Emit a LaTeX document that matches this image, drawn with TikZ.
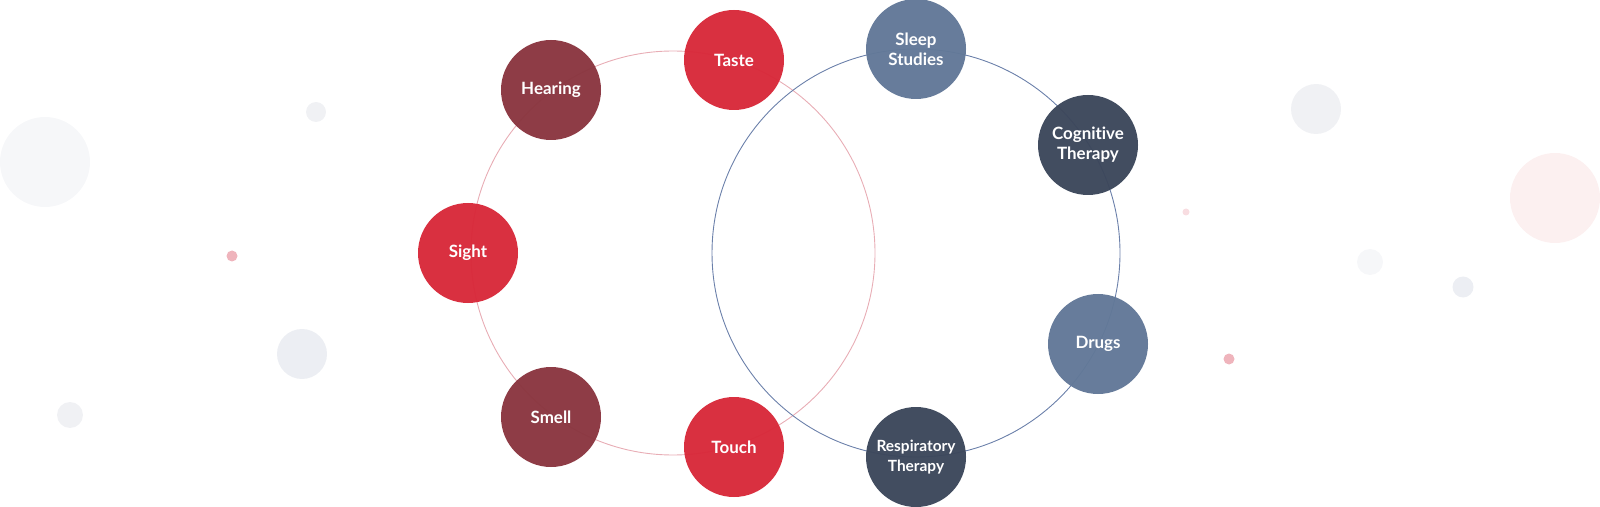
\documentclass[tikz,border=0pt]{standalone}
\usepackage{fontspec}
\setmainfont{Lato}[Ligatures=NoCommon]
\definecolor{senseRed}{HTML}{D8293A}
\definecolor{senseDark}{HTML}{8A3640}
\definecolor{careBlue}{HTML}{627898}
\definecolor{careNavy}{HTML}{3C475B}
\definecolor{ringRed}{HTML}{E8ADB5}
\definecolor{ringBlue}{HTML}{6B80AA}
\definecolor{dotGrey}{HTML}{F0F1F4}
\definecolor{dotCool}{HTML}{ECEEF3}
\definecolor{dotPale}{HTML}{F6F7F9}
\definecolor{dotPink}{HTML}{EFB4BC}
\definecolor{dotBlush}{HTML}{FCF0F0}
\tikzset{
  bubble/.style={circle,minimum size=100bp,inner sep=0pt,fill opacity=0.97,text opacity=1,
    text=white,align=center,font=\fontsize{17}{20}\selectfont\bfseries},
  ring/.style={line width=0.9bp}
}
\begin{document}
\begin{tikzpicture}[x=1bp,y=-1bp]
\useasboundingbox (0,0) rectangle (1600,507);

% background dots
\fill[dotPale] (45,162) circle (45);
\fill[dotGrey] (316,112) circle (10);
\fill[dotPink] (232,256) circle (5.5);
\fill[dotCool] (302,354) circle (25);
\fill[dotGrey] (70,415) circle (13);
\fill[dotGrey] (1316,109) circle (25);
\fill[dotBlush] (1555,198) circle (45);
\fill[dotPink!45] (1186,212) circle (3.5);
\fill[dotPale] (1370,262) circle (13);
\fill[dotCool] (1463,287) circle (10.5);
\fill[dotPink] (1229,359) circle (5.5);

% the two rings
\draw[ring,ringRed] (673,253) circle (202);
\draw[ring,ringBlue] (916,253) circle (204);

% senses
\node[bubble,fill=senseRed] (taste) at (734,60) {Taste};
\node[bubble,fill=senseDark] (hearing) at (551,90) {Hearing};
\node[bubble,fill=senseRed] (sight) at (468,253) {Sight};
\node[bubble,fill=senseDark] (smell) at (551,417) {Smell};
\node[bubble,fill=senseRed] (touch) at (734,447) {Touch};

% treatments
\node[bubble,fill=careBlue] (sleep) at (916,49) {Sleep\\Studies};
\node[bubble,fill=careNavy] (cognitive) at (1088,145) {Cognitive\\Therapy};
\node[bubble,fill=careBlue] (drugs) at (1098,344) {Drugs};
\node[bubble,fill=careNavy,font=\fontsize{15.5}{20}\selectfont\bfseries] (respiratory) at (916,457) {Respiratory\\Therapy};
\end{tikzpicture}
\end{document}
